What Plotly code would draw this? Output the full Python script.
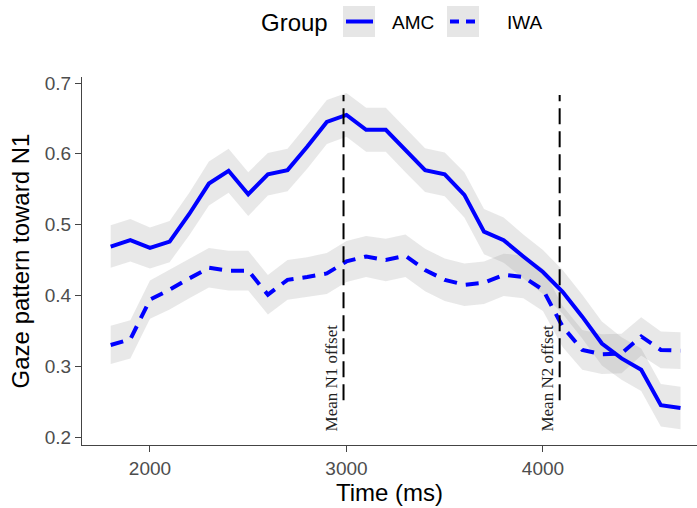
import plotly.graph_objects as go

# ---------------- data ----------------
time_ms = [1800, 1900, 2000, 2100, 2200, 2300, 2400, 2500, 2600, 2700,
           2800, 2900, 3000, 3100, 3200, 3300, 3400, 3500, 3600, 3700,
           3800, 3900, 4000, 4100, 4200, 4300, 4400, 4500, 4600, 4700]

amc_mean = [0.469, 0.478, 0.467, 0.476, 0.515, 0.558, 0.576, 0.543, 0.571, 0.577,
            0.610, 0.645, 0.655, 0.634, 0.634, 0.605, 0.577, 0.571, 0.542, 0.490,
            0.478, 0.455, 0.433, 0.405, 0.370, 0.332, 0.311, 0.295, 0.245, 0.241]
amc_se = [0.030, 0.030, 0.029, 0.029, 0.030, 0.031, 0.031, 0.031, 0.030, 0.030,
          0.031, 0.031, 0.031, 0.031, 0.031, 0.031, 0.031, 0.031, 0.032, 0.032,
          0.032, 0.031, 0.031, 0.031, 0.031, 0.031, 0.030, 0.030, 0.030, 0.030]

iwa_mean = [0.330, 0.338, 0.394, 0.408, 0.424, 0.439, 0.435, 0.435, 0.401, 0.422,
            0.426, 0.431, 0.448, 0.455, 0.450, 0.456, 0.436, 0.422, 0.415, 0.418,
            0.429, 0.426, 0.408, 0.356, 0.323, 0.317, 0.318, 0.342, 0.323, 0.322]
iwa_se = [0.027, 0.027, 0.027, 0.028, 0.028, 0.028, 0.028, 0.028, 0.028, 0.028,
          0.028, 0.029, 0.029, 0.029, 0.030, 0.030, 0.030, 0.030, 0.030, 0.030,
          0.030, 0.030, 0.030, 0.029, 0.028, 0.028, 0.028, 0.027, 0.026, 0.026]

groups = ["AMC", "IWA"]
offset_times = [2985, 4085]
offset_labels = ["Mean N1 offset", "Mean N2 offset"]
offset_span = [0.252, 0.683]

x_ticks = [2000, 3000, 4000]
y_ticks = [0.2, 0.3, 0.4, 0.5, 0.6, 0.7]

# ---------------- styling ----------------
BLUE = "#0000FF"
RIBBON = "rgba(150,150,150,0.22)"
SANS = "Liberation Sans, Arial, sans-serif"
SERIF = "Liberation Serif, Times New Roman, serif"
dashes = {"AMC": "solid", "IWA": "13px,9px"}

series = {"AMC": (amc_mean, amc_se), "IWA": (iwa_mean, iwa_se)}

fig = go.Figure()

# ribbons first
for g in groups:
    m, s = series[g]
    upper = [a + b for a, b in zip(m, s)]
    lower = [a - b for a, b in zip(m, s)]
    fig.add_trace(go.Scatter(
        x=time_ms + time_ms[::-1], y=upper + lower[::-1],
        fill="toself", fillcolor=RIBBON, line=dict(width=0),
        mode="lines", hoverinfo="skip", showlegend=False))

# lines
for g in groups:
    m, _ = series[g]
    fig.add_trace(go.Scatter(
        x=time_ms, y=m, mode="lines", name=g,
        line=dict(color=BLUE, width=4, dash=dashes[g]),
        showlegend=False))

# vertical offset markers
for t, lab in zip(offset_times, offset_labels):
    fig.add_shape(type="line", xref="x", yref="y",
                  x0=t, x1=t, y0=offset_span[0], y1=offset_span[1],
                  line=dict(color="black", width=2, dash="16px,7px"))
    fig.add_annotation(x=t, y=0.2835, xref="x", yref="y",
                       text=lab, textangle=-90, showarrow=False,
                       xanchor="center", yanchor="middle", xshift=-12,
                       font=dict(family=SERIF, size=17, color="#222222"))

# ---------------- manual legend (top) ----------------
L, R, T, B = 82, 697, 77, 445
def px(X):
    return (X - L) / (R - L)
def py(Y):
    return (B - Y) / (B - T)

fig.add_annotation(x=px(294), y=py(22), xref="paper", yref="paper",
                   text="Group", showarrow=False, xanchor="center", yanchor="middle",
                   font=dict(family=SANS, size=24, color="black"))
key_boxes = [(343, 375), (447, 479)]
label_x = [390, 505]
for g, (k0, k1), lx in zip(groups, key_boxes, label_x):
    fig.add_shape(type="rect", xref="paper", yref="paper",
                  x0=px(k0), x1=px(k1), y0=py(37), y1=py(6),
                  fillcolor="#e6e6e6", line=dict(width=0))
    fig.add_shape(type="line", xref="paper", yref="paper",
                  x0=px(k0 + 3), x1=px(k1 - 2), y0=py(21.5), y1=py(21.5),
                  line=dict(color=BLUE, width=4,
                            dash="solid" if g == "AMC" else "9px,7px"))
    fig.add_annotation(x=px(lx), y=py(22), xref="paper", yref="paper",
                       text=g, showarrow=False, xanchor="left", yanchor="middle",
                       font=dict(family=SANS, size=19, color="black"))

fig.update_layout(
    width=697, height=508,
    margin=dict(l=L, r=0, t=T, b=508 - B),
    paper_bgcolor="white", plot_bgcolor="white",
    showlegend=False,
    font=dict(family=SANS),
)
fig.update_xaxes(
    range=[1654, 4784], tickvals=x_ticks, ticktext=[str(v) for v in x_ticks],
    showgrid=False, zeroline=False,
    showline=True, linecolor="#444444", linewidth=1.3,
    ticks="outside", ticklen=6, tickcolor="#444444", tickwidth=1.3,
    tickfont=dict(family=SANS, size=19, color="#4d4d4d"),
    title=dict(text="Time (ms)", font=dict(family=SANS, size=24, color="black"), standoff=6),
    automargin=False,
)
fig.update_yaxes(
    range=[0.1887, 0.7085], tickvals=y_ticks, ticktext=[f"{v:.1f}" for v in y_ticks],
    showgrid=False, zeroline=False,
    showline=True, linecolor="#444444", linewidth=1.3,
    ticks="outside", ticklen=6, tickcolor="#444444", tickwidth=1.3,
    tickfont=dict(family=SANS, size=19, color="#4d4d4d"),
    title=dict(text="Gaze pattern toward N1", font=dict(family=SANS, size=24, color="black"), standoff=8),
    automargin=False,
)

fig.write_html("out.html")
